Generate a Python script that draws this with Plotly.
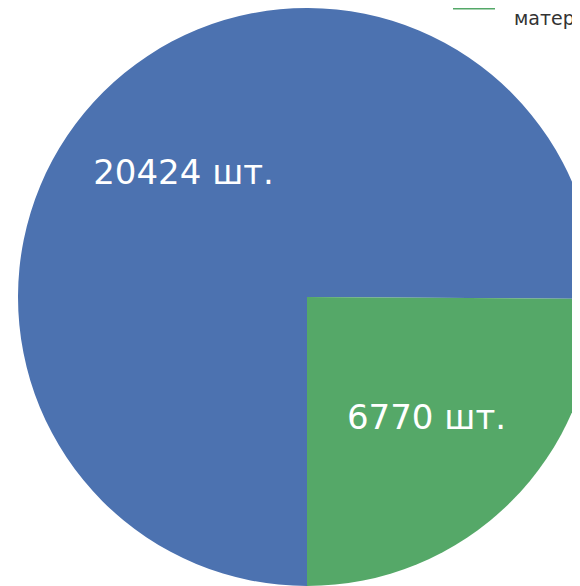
import plotly.graph_objects as go

labels = ["прочие<br>материалы", "проектные<br>материалы"]
values = [20424, 6770]
text_labels = ["20424 шт.&nbsp;&nbsp;&nbsp;&nbsp;<br> ", "6770 шт."]
colors = ["#4C72B0", "#55A868"]

W, H = 700, 578
FONT = "DejaVu Sans, Liberation Sans, Arial, sans-serif"
PAD = "&nbsp;&nbsp;\u200a"

fig = go.Figure(go.Pie(
    labels=labels,
    values=values,
    text=text_labels,
    textinfo="text",
    textposition="inside",
    insidetextorientation="horizontal",
    textfont=dict(family=FONT, size=34, color="white"),
    marker=dict(colors=colors, line=dict(width=0)),
    sort=False,
    direction="counterclockwise",
    rotation=180,
    domain=dict(x=[10 / W, 588 / W], y=[0, 1]),
    hoverinfo="label+value",
    showlegend=False,
))

# legend entries (no data points, legend swatches only)
for lab, col in zip(labels, colors):
    fig.add_trace(go.Scatter(
        x=[None], y=[None], mode="lines", fill="toself", fillcolor=col,
        name=PAD + lab.replace("<br>", "<br>" + PAD),
        line=dict(color=col, width=14), showlegend=True,
    ))

fig.update_layout(
    width=W, height=H,
    margin=dict(l=0, r=0, t=0, b=0, autoexpand=False),
    paper_bgcolor="white",
    plot_bgcolor="white",
    xaxis=dict(visible=False),
    yaxis=dict(visible=False),
    showlegend=True,
    legend=dict(
        x=440 / W, y=1 + 86 / H, xanchor="left", yanchor="top",
        itemwidth=42,
        font=dict(family=FONT, size=19, color="#333333"),
        bgcolor="rgba(0,0,0,0)",
    ),
    uniformtext=dict(minsize=34, mode="show"),
)

fig.write_html(
    "out.html",
    post_script="document.documentElement.style.overflow='hidden';",
)
